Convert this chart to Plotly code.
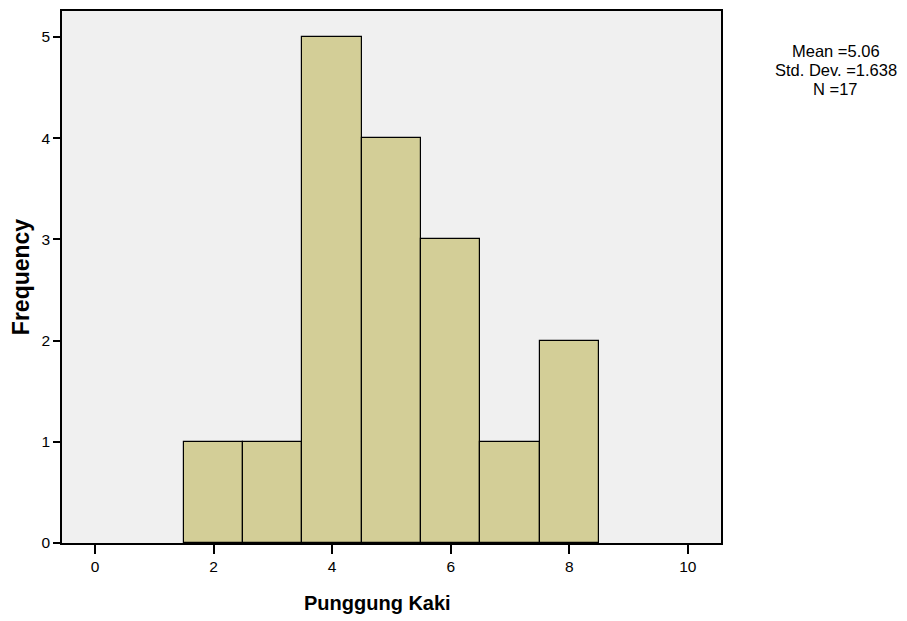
import plotly.graph_objects as go

bin_centers = [2, 3, 4, 5, 6, 7, 8]
frequencies = [1, 1, 5, 4, 3, 1, 2]
x_ticks = [0, 2, 4, 6, 8, 10]
y_ticks = [0, 1, 2, 3, 4, 5]
stats_lines = ["Mean =5.06", "Std. Dev. =1.638", "N =17"]
stats_y = [0.925, 0.8895, 0.854]

fig = go.Figure()
fig.add_trace(go.Bar(
    x=bin_centers, y=frequencies, width=1,
    marker=dict(color="#D3CE97", line=dict(color="black", width=1.2)),
    showlegend=False,
))

fig.update_layout(
    width=907, height=621,
    margin=dict(l=54, r=194, t=1, b=86),
    paper_bgcolor="white", plot_bgcolor="#F0F0F0",
    font=dict(family="Liberation Sans, Arial", size=15.5, color="black"),
    bargap=0,
)
fig.update_xaxes(
    range=[-0.557, 10.56], tickvals=x_ticks, ticks="outside", ticklen=9, tickwidth=2,
    tickcolor="black", showgrid=False, zeroline=False,
    showline=True, linecolor="black", linewidth=1.5, mirror=True,
)
fig.update_yaxes(
    range=[0, 5.256], tickvals=y_ticks, ticks="outside", ticklen=7, tickwidth=2,
    tickcolor="black", showgrid=False, zeroline=False,
    showline=True, linecolor="black", linewidth=1.5, mirror=True,
    title=dict(text="<b>Frequency</b>", font=dict(size=23), standoff=8),
)
fig.add_annotation(
    text="<b>Punggung Kaki</b>", xref="paper", yref="paper", x=0.4795, y=-0.1124,
    xanchor="center", yanchor="middle", showarrow=False, font=dict(size=20),
)
for line, yv in zip(stats_lines, stats_y):
    fig.add_annotation(
        text=line, xref="paper", yref="paper", x=1.1745, y=yv,
        xanchor="center", yanchor="middle", showarrow=False, borderpad=0,
        font=dict(size=16.5),
    )
fig.write_html("out.html")
